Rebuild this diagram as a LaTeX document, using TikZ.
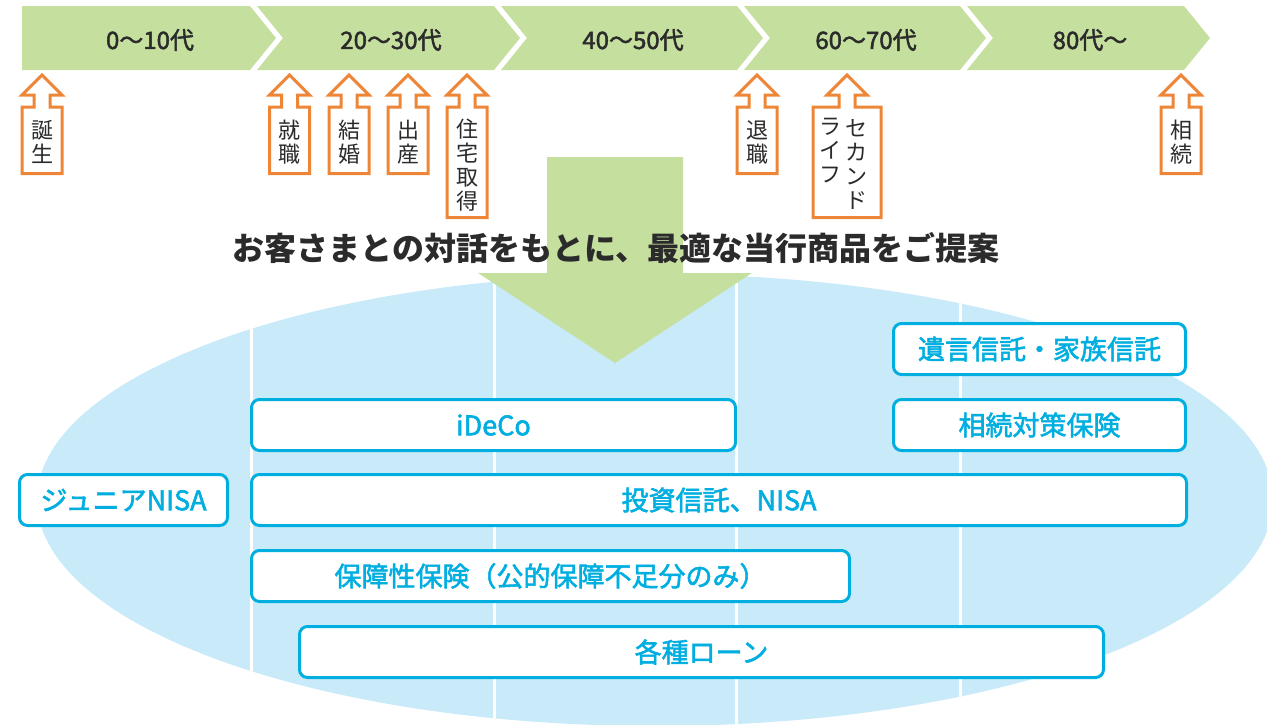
\documentclass[tikz,border=0pt]{standalone}
\usepackage{fontspec}
\setmainfont{Noto Sans CJK JP}
\newfontfamily\jpmedium{Noto Sans CJK JP}[FakeBold=2]
\usetikzlibrary{positioning}

\definecolor{agegreen}{HTML}{C5DF9E}
\definecolor{eventorange}{HTML}{EE8638}
\definecolor{prodcyan}{HTML}{00AEE0}
\definecolor{fieldblue}{HTML}{C8EAF9}
\definecolor{darktext}{HTML}{2B2B2B}

% orange up-arrow: #1 centre x, #2 half width of the box, #3 bottom y
\newcommand{\lifearrow}[3]{%
  \draw[eventline] (#1,75) -- (#1+20,95) -- (#1+8,95) -- (#1+8,107)
    -- (#1+#2,107) -- (#1+#2,#3) -- (#1-#2,#3) -- (#1-#2,107)
    -- (#1-8,107) -- (#1-8,95) -- (#1-20,95) -- cycle;}

\begin{document}
\begin{tikzpicture}[x=1pt,y=-1pt,line join=miter]
        \tikzstyle{age}=[font=\jpmedium\fontsize{24}{24}\selectfont,text=darktext,inner sep=0pt]
        \tikzstyle{event}=[font=\fontsize{22}{24}\selectfont,text=darktext,align=center,inner sep=0pt]
        \tikzstyle{eventline}=[draw=eventorange,fill=white,line width=3pt]
        \tikzstyle{product}=[draw=prodcyan,line width=3pt,fill=white,rounded corners=8pt,
                             text=prodcyan,font=\jpmedium\fontsize{27}{30}\selectfont,
                             minimum height=51pt,inner sep=0pt]
        \tikzstyle{title}=[font=\bfseries\fontsize{32}{34}\selectfont,text=darktext,inner sep=0pt]
        \useasboundingbox (0,0) rectangle (1267,724);

        % field of products
        \def\field{(655,500) ellipse [x radius=618, y radius=226]}
        \fill[fieldblue] \field;
        \begin{scope}
          \clip \field;
          \draw[white,line width=2.5pt] (251.5,250) -- (251.5,724)
                                        (494.5,250) -- (494.5,724)
                                        (736.5,250) -- (736.5,724)
                                        (960.5,250) -- (960.5,724);
        \end{scope}

        % age bands
        \fill[agegreen] (22,6) -- (250,6) -- (276,38) -- (250,70) -- (22,70) -- cycle;
        \fill[agegreen] (257,6) -- (494,6) -- (520,38) -- (494,70) -- (257,70) -- (283,38) -- cycle;
        \fill[agegreen] (501,6) -- (737,6) -- (763,38) -- (737,70) -- (501,70) -- (527,38) -- cycle;
        \fill[agegreen] (744,6) -- (960,6) -- (986,38) -- (960,70) -- (744,70) -- (770,38) -- cycle;
        \fill[agegreen] (967,6) -- (1184,6) -- (1210,38) -- (1184,70) -- (967,70) -- (993,38) -- cycle;
        \node[age] (teens)   at (150,40)  {0〜10代};
        \node[age] (twenties) at (391,40) {20〜30代};
        \node[age] (forties) at (633,40)  {40〜50代};
        \node[age] (sixties) at (866,40)  {60〜70代};
        \node[age] (eighties) at (1090,40) {80代〜};

        % life events
        \lifearrow{42}{20}{173.5}
        \lifearrow{289.5}{20}{173.5}
        \lifearrow{349}{20}{173.5}
        \lifearrow{408}{20}{173.5}
        \lifearrow{467}{20}{217.5}
        \lifearrow{757}{20}{173.5}
        \lifearrow{847}{34}{217.5}
        \lifearrow{1181}{20}{173.5}
        \node[event] (birth)   at (42,142)    {誕\\生};
        \node[event] (job)     at (289.5,142) {就\\職};
        \node[event] (wedding) at (349,142)   {結\\婚};
        \node[event] (baby)    at (408,142)   {出\\産};
        \node[event] (house)   at (467,165)   {住\\宅\\取\\得};
        \node[event] (retire)  at (757,142)   {退\\職};
        \node[event] (second)  at (856,164)   {セ\\カ\\ン\\ド};
        \node[event] (life)    at (830,151)   {ラ\\イ\\フ};
        \node[event] (inherit) at (1181,142)  {相\\続};

        % big arrow and message
        \fill[agegreen] (547,157) -- (683,157) -- (683,273) -- (752,273) -- (615,363)
                        -- (478,273) -- (547,273) -- cycle;
        \node[title] (message) at (616,248) {お客さまとの対話をもとに、最適な当行商品をご提案};

        % products
        \node[product,minimum width=292pt] (will)    at (1039.5,349) {遺言信託・家族信託};
        \node[product,minimum width=292pt] (insure)  at (1039.5,425) {相続対策保険};
        \node[product,minimum width=484pt] (ideco)   at (493.5,425)  {iDeCo};
        \node[product,minimum width=208pt] (junior)  at (123.5,500)  {ジュニアNISA};
        \node[product,minimum width=935pt] (fund)    at (719,500)    {投資信託、NISA};
        \node[product,minimum width=598pt] (cover)   at (550.5,576)  {保障性保険（公的保障不足分のみ）};
        \node[product,minimum width=804pt] (loan)    at (701.5,652)  {各種ローン};
\end{tikzpicture}
\end{document}
